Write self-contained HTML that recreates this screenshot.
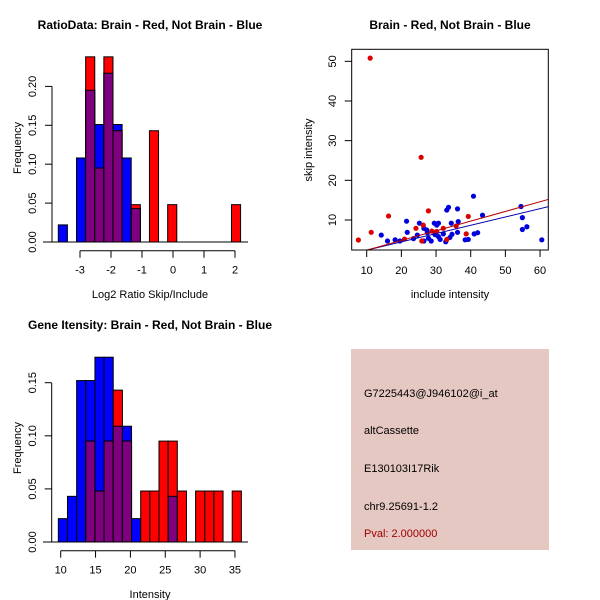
<!DOCTYPE html>
<html><head><meta charset="utf-8"><style>
body{margin:0;background:#fff}
svg{display:block;font-family:"Liberation Sans",sans-serif}
</style></head><body>
<svg id="c" width="600" height="600" viewBox="0 0 600 600">
<rect width="600" height="600" fill="#fff"/>
<defs><clipPath id="boxclip"><rect x="351.7" y="49.3" width="196.6" height="200.7"/></clipPath></defs>
<rect x="351" y="349" width="198" height="201" fill="#e6c8c2"/>
<text x="364" y="397" font-size="11">G7225443@J946102@i_at</text>
<text x="364" y="434" font-size="11">altCassette</text>
<text x="364" y="472" font-size="11">E130103I17Rik</text>
<text x="364" y="510" font-size="11">chr9.25691-1.2</text>
<text x="364" y="537" font-size="11" fill="#a00000">Pval: 2.000000</text>
</svg>
<script>
// ---- Ratio histogram data ----
const ratioStart = -3.70;
const ratioWidth = 0.294;
const ratioBlue = [0.022,0,0.108,0.195,0.151,0.217,0.151,0.108,0.043,0,0,0,0,0,0,0,0,0,0,0];
const ratioRed  = [0,0,0,0.238,0.095,0.238,0.143,0,0.048,0,0.143,0,0.048,0,0,0,0,0,0,0.048];
const ratioXTicks = [-3,-2,-1,0,1,2];
const ratioYTicks = [0,0.05,0.10,0.15,0.20];
// ---- Intensity histogram data ----
const intStart = 9.66;
const intWidth = 1.313;
const intBlue = [0.022,0.043,0.152,0.152,0.174,0.174,0.109,0.109,0.022,0,0,0,0.043,0,0,0,0,0,0,0];
const intRed  = [0,0,0,0.095,0.048,0.095,0.143,0.095,0,0.048,0.048,0.095,0.095,0.048,0,0.048,0.048,0.048,0,0.048];
const intXTicks = [10,15,20,25,30,35];
const intYTicks = [0,0.05,0.10,0.15];
// ---- Scatter data ----
const redX = [11.0,25.7,7.6,11.3,16.3,27.8,24.2,20.9,26.3,32.1,35.8,39.3,38.7,30.2,28.8,25.9,33.1];
const redY = [50.8,25.8,4.96,6.9,11,12.3,7.9,5.2,8.7,7.9,8.5,10.9,6.5,7.1,7.2,4.7,5.1];
const blueX = [14.2,16,18.2,19.6,21.5,21.7,23.5,24.6,25.2,26.5,27.3,26.5,27.8,28.6,29.5,30.2,30.7,29.7,30.7,31.2,32.8,33.1,33.6,34.4,34.6,36.2,36.4,36.2,34,38.4,39.3,40.8,41,42,43.4,54.5,54.9,54.9,56.2,60.5,27.5,32.1];
const blueY = [6.2,4.7,5,4.7,9.7,6.9,5.3,6.2,9.2,7.9,7.5,4.7,5.4,4.7,9.2,8.7,9.2,6.3,5.8,5.1,4.5,12.5,13.2,9.2,6.4,12.8,9.6,6.9,5.6,5,5.1,16,6.5,6.8,11.2,13.4,10.6,7.6,8.3,5,6.8,6.5];
const fitRed = [-0.04, 0.244];
const fitBlue = [0.31, 0.209];
const scXTicks = [10,20,30,40,50,60];
const scYTicks = [10,20,30,40,50];

const NS="http://www.w3.org/2000/svg";
const svg=document.getElementById('c');
function mk(tag,attrs,parent){const e=document.createElementNS(NS,tag);for(const k in attrs)e.setAttribute(k,attrs[k]);(parent||svg).appendChild(e);return e;}
function txt(s,x,y,extra,name){
  const t=mk('text',Object.assign({x:x,y:y,'font-size':11,'text-anchor':'middle',fill:'#000'},extra||{}));
  t.textContent=s;
  
  
  return t;
}
function fmt(v){return v.toFixed(2);}

function hist(o){
  const g=mk('g',{});
  
  
  const X=v=>o.xRef+(v-o.vRef)*o.sx, Y=v=>o.y0-v*o.sy;
  for(let i=0;i<o.blue.length;i++){
    const a=X(o.start+i*o.w), b=X(o.start+(i+1)*o.w);
    const bl=o.blue[i], rd=o.red[i], mn=Math.min(bl,rd);
    if(bl>0){const r=mk('rect',{x:a,y:Y(bl),width:b-a,height:Y(0)-Y(bl),fill:'#0000ff',stroke:'#000','stroke-width':1},g);
      
      }
    if(rd>0){const r=mk('rect',{x:a,y:Y(rd),width:b-a,height:Y(0)-Y(rd),fill:'#ff0000',stroke:'#000','stroke-width':1},g);
      
      }
    if(mn>0){const r=mk('rect',{x:a,y:Y(mn),width:b-a,height:Y(0)-Y(mn),fill:'#7f007f',stroke:'#000','stroke-width':1},g);
      
      }
  }
  mk('line',{x1:43,y1:o.y0,x2:248,y2:o.y0,stroke:'#000'},g);
  // y axis
  const yt=o.yTicks;
  mk('line',{x1:o.axX,y1:Y(yt[0]),x2:o.axX,y2:Y(yt[yt.length-1]),stroke:'#000'},g);
  yt.forEach(v=>{
    mk('line',{x1:o.axX,y1:Y(v),x2:o.axX-7,y2:Y(v),stroke:'#000'},g);
    txt(fmt(v),36,Y(v),{transform:`rotate(-90 36 ${Y(v)})`},'y-tick-label');
  });
  // x axis
  const xt=o.xTicks;
  mk('line',{x1:X(xt[0]),y1:o.axY,x2:X(xt[xt.length-1]),y2:o.axY,stroke:'#000'},g);
  xt.forEach(v=>{
    mk('line',{x1:X(v),y1:o.axY,x2:X(v),y2:o.axY+7,stroke:'#000'},g);
    txt(String(v),X(v),o.axY+23,{},'x-tick-label');
  });
  txt(o.title,150,o.titleY,{'font-weight':'bold','font-size':12},'chart-title');
  txt(o.xlabel,150,o.xlabY,{},'x-axis-title');
  txt('Frequency',21,o.ylabC,{transform:`rotate(-90 21 ${o.ylabC})`},'y-axis-title');
}

hist({name:'ratio-histogram',start:ratioStart,w:ratioWidth,blue:ratioBlue,red:ratioRed,xTicks:ratioXTicks,yTicks:ratioYTicks,
  xRef:80,vRef:-3,sx:31,y0:242,sy:778,axX:52,axY:250.7,title:'RatioData: Brain - Red, Not Brain - Blue',titleY:29,
  xlabel:'Log2 Ratio Skip/Include',xlabY:298,ylabC:148});
hist({name:'intensity-histogram',start:intStart,w:intWidth,blue:intBlue,red:intRed,xTicks:intXTicks,yTicks:intYTicks,
  xRef:60.7,vRef:10,sx:6.97,y0:542,sy:1062,axX:51.7,axY:550.7,title:'Gene Itensity: Brain - Red, Not Brain - Blue',titleY:329,
  xlabel:'Intensity',xlabY:598,ylabC:448});

// scatter
(function(){
  const g=mk('g',{});
  
  
  const X=v=>366.7+(v-10)*3.467, Y=v=>220-(v-10)*3.967;
  const inner=mk('g',{'clip-path':'url(#boxclip)'},g);
  blueX.forEach((x,i)=>{const c=mk('circle',{cx:X(x),cy:Y(blueY[i]),r:2.6,fill:'#0000dd'},inner);
    
    });
  redX.forEach((x,i)=>{const c=mk('circle',{cx:X(x),cy:Y(redY[i]),r:2.6,fill:'#dd0000'},inner);
    
    });
  [[fitBlue,'#0000aa','blue-fit-line'],[fitRed,'#bb0000','red-fit-line']].forEach(([f,col,nm])=>{
    const x1=10,x2=63;
    const l=mk('line',{x1:X(x1),y1:Y(f[0]+f[1]*x1),x2:X(x2),y2:Y(f[0]+f[1]*x2),stroke:col,'stroke-width':1},inner);
    
    
  });
  mk('rect',{x:351.7,y:49.3,width:196.6,height:200.7,fill:'none',stroke:'#000'},g);
  scXTicks.forEach(v=>{
    mk('line',{x1:X(v),y1:250,x2:X(v),y2:257,stroke:'#000'},g);
    txt(String(v),X(v),274,{},'x-tick-label');
  });
  scYTicks.forEach(v=>{
    mk('line',{x1:351.7,y1:Y(v),x2:344.7,y2:Y(v),stroke:'#000'},g);
    txt(String(v),336,Y(v),{transform:`rotate(-90 336 ${Y(v)})`},'y-tick-label');
  });
  txt('Brain - Red, Not Brain - Blue',450,29,{'font-weight':'bold','font-size':12},'chart-title');
  txt('include intensity',450,298,{},'x-axis-title');
  txt('skip intensity',312,150,{transform:'rotate(-90 312 150)'},'y-axis-title');
})();
</script>
</body></html>
